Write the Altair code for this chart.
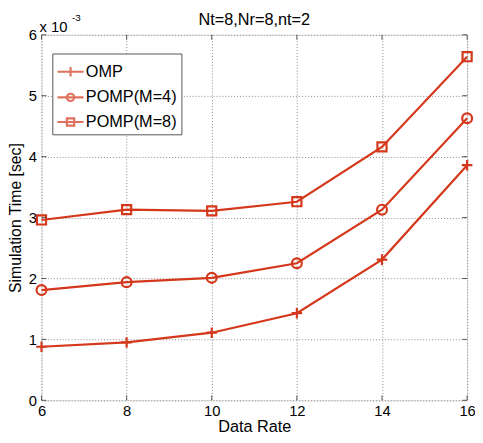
import altair as alt
import pandas as pd

# Data (simulation time in units of 1e-3 s)
data_rate = [6, 8, 10, 12, 14, 16]
omp = [0.88, 0.95, 1.11, 1.43, 2.31, 3.86]
pomp4 = [1.81, 1.94, 2.01, 2.25, 3.13, 4.63]
pomp8 = [2.96, 3.13, 3.11, 3.26, 4.16, 5.64]
names = ["OMP", "POMP(M=4)", "POMP(M=8)"]
x_ticks = [6, 8, 10, 12, 14, 16]
y_ticks = [0, 1, 2, 3, 4, 5, 6]
title_text = ["Nt=8,Nr=8,nt=2"]

RED = "#d4371a"
AX = "#555555"
FONT = "Liberation Sans"
W, H = 432, 371

rows = []
for name, vals in zip(names, [omp, pomp4, pomp8]):
    for xv, yv in zip(data_rate, vals):
        rows.append({"rate": xv, "time": yv, "series": name})
df = pd.DataFrame(rows)

xscale = alt.Scale(domain=[6, 16], nice=False, zero=False)
yscale = alt.Scale(domain=[0, 6], nice=False)

x_enc = alt.X("rate:Q", scale=xscale,
              axis=alt.Axis(values=x_ticks, format="d", title="Data Rate", grid=True,
                            gridDash=[1, 2], gridColor="#8a8a8a", domain=False,
                            ticks=False, labelFontSize=15, labelFont=FONT,
                            labelColor="black", labelPadding=3, titleFont=FONT,
                            titleFontSize=16.5, titleFontWeight="normal",
                            titleColor="black", titlePadding=1,
                            labelFlush=False))
y_enc = alt.Y("time:Q", scale=yscale,
              axis=alt.Axis(values=y_ticks, format="d",
                            title="Simulation Time [sec]",
                            grid=True, gridDash=[1, 2], gridColor="#8a8a8a",
                            domain=False, ticks=False, labelFontSize=15,
                            labelFont=FONT, labelColor="black", labelPadding=5,
                            titleFont=FONT, titleFontSize=16,
                            titleFontWeight="normal", titleColor="black",
                            titlePadding=5, labelFlush=False))

base = alt.Chart(df)

lines = base.mark_line(color=RED, strokeWidth=2.2).encode(
    x=x_enc, y=y_enc, detail="series:N")

plus_path = "M-1,0H1M0,-1V1"
markers = base.mark_point(filled=False, color=RED, strokeWidth=2.2, opacity=1).encode(
    x=alt.X("rate:Q", scale=xscale),
    y=alt.Y("time:Q", scale=yscale),
    shape=alt.Shape("series:N",
                    scale=alt.Scale(domain=names, range=[plus_path, "circle", "square"]),
                    legend=None),
    size=alt.Size("series:N", scale=alt.Scale(domain=names, range=[115, 85, 75]),
                  legend=None),
)

r = 0.28
leg_paths = [
    "M-1,0H1M0,-0.36V0.36",
    f"M-1,0H1M-{r},0A{r},{r} 0 1,0 {r},0A{r},{r} 0 1,0 -{r},0Z",
    f"M-1,0H1M-{r},-{r}H{r}V{r}H-{r}Z",
]
legend_layer = base.mark_point(filled=False, color=RED, strokeWidth=2.2).encode(
    x=alt.X("rate:Q", scale=xscale),
    y=alt.Y("time:Q", scale=yscale),
    shape=alt.Shape("series:N",
                    scale=alt.Scale(domain=names, range=leg_paths),
                    legend=alt.Legend(title=None, orient="none", legendX=11,
                                      legendY=19, strokeColor=AX,
                                      fillColor="white", padding=4,
                                      labelFont=FONT, labelFontSize=16.5,
                                      labelColor="black", labelOffset=1,
                                      symbolSize=700, symbolStrokeWidth=2.2,
                                      symbolStrokeColor=RED,
                                      symbolFillColor="transparent",
                                      rowPadding=2, cornerRadius=0)),
).transform_filter("false")

tick_df = pd.DataFrame({"t": x_ticks})
ytick_df = pd.DataFrame({"t": y_ticks})
xt_bottom = alt.Chart(tick_df).mark_rule(color=AX).encode(
    x=alt.X("t:Q", scale=xscale), y=alt.value(H), y2=alt.value(H - 5))
xt_top = alt.Chart(tick_df).mark_rule(color=AX).encode(
    x=alt.X("t:Q", scale=xscale), y=alt.value(0), y2=alt.value(5))
yt_left = alt.Chart(ytick_df).mark_rule(color=AX).encode(
    y=alt.Y("t:Q", scale=yscale), x=alt.value(0), x2=alt.value(5))
yt_right = alt.Chart(ytick_df).mark_rule(color=AX).encode(
    y=alt.Y("t:Q", scale=yscale), x=alt.value(W), x2=alt.value(W - 5))

exp_df = pd.DataFrame({"base": ["x 10"], "exp": ["-3"]})
exp_base = alt.Chart(exp_df).mark_text(align="left", baseline="alphabetic",
                                       font=FONT, fontSize=15, color="black").encode(
    text="base:N", x=alt.value(-2), y=alt.value(-3))
exp_sup = alt.Chart(exp_df).mark_text(align="left", baseline="alphabetic",
                                      font=FONT, fontSize=10, color="black").encode(
    text="exp:N", x=alt.value(31), y=alt.value(-14))

title_df = pd.DataFrame({"t": title_text})
title_mark = alt.Chart(title_df).mark_text(align="center", baseline="alphabetic",
                                           font=FONT, fontSize=16.5,
                                           color="black").encode(
    text="t:N", x=alt.value(W / 2), y=alt.value(-10))

chart = alt.layer(
    lines, markers, legend_layer, xt_bottom, xt_top, yt_left, yt_right,
    exp_base, exp_sup, title_mark,
).resolve_scale(shape="independent", size="independent").properties(
    width=W, height=H,
    autosize=alt.AutoSizeParams(type="none"),
    padding={"left": 34, "top": 24, "right": 8, "bottom": 32},
).configure_view(stroke=AX, strokeWidth=1).configure(background="white")

chart.save("out.html", embed_options={"renderer": "svg", "actions": False})
